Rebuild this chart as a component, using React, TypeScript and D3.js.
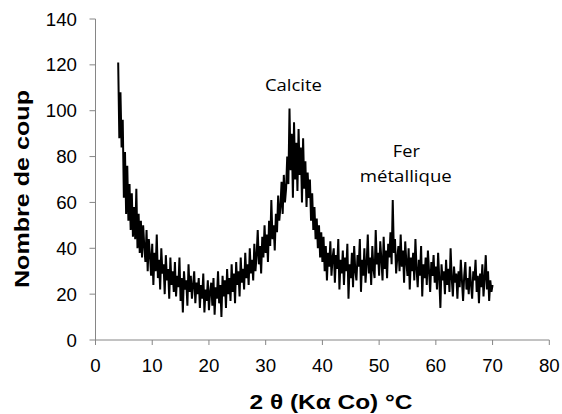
import React from "react";
import * as d3 from "d3";

const X_START = 4.0;
const X_STEP = 0.2;
const counts: number[] = [
  121, 88, 108, 84, 96, 62, 82, 55, 76, 52,
  68, 48, 64, 45, 58, 44, 66, 40, 55, 38,
  52, 36, 50, 41, 34, 48, 30, 44, 37, 28,
  42, 24, 38, 30, 46, 27, 35, 22, 40, 29,
  33, 20, 37, 26, 31, 18, 36, 24, 30, 21,
  34, 19, 28, 23, 36, 17, 27, 12, 30, 22,
  26, 15, 33, 21, 28, 18, 24, 30, 16, 25,
  20, 27, 14, 24, 18, 29, 12, 22, 17, 26,
  13, 21, 25, 15, 27, 11, 23, 18, 30, 16,
  24, 10, 28, 19, 26, 14, 31, 20, 27, 17,
  33, 21, 29, 16, 34, 24, 30, 19, 36, 25,
  31, 22, 38, 27, 33, 24, 40, 29, 35, 26,
  42, 30, 37, 48, 33, 41, 29, 45, 36, 50,
  38, 46, 34, 52, 41, 61, 44, 50, 39, 55,
  47, 63, 52, 58, 69, 55, 72, 60, 66, 80,
  68, 101, 74, 90, 62, 95, 70, 86, 65, 92,
  72, 84, 60, 88, 66, 78, 58, 73, 62, 70,
  52, 64, 48, 58, 44, 53, 40, 50, 36, 47,
  34, 45, 30, 41, 26, 38, 32, 43, 28, 36,
  40, 25, 37, 31, 44, 22, 35, 29, 39, 24,
  36, 30, 42, 18, 33, 27, 38, 23, 41, 30,
  26, 37, 32, 44, 21, 35, 28, 40, 25, 33,
  46, 29, 36, 24, 41, 31, 27, 48, 33, 38,
  28, 43, 35, 26, 45, 31, 39, 27, 42, 36,
  47, 33, 61, 38, 44, 29, 36, 41, 30, 46,
  32, 39, 25, 43, 34, 28, 40, 22, 36, 30,
  38, 26, 44, 31, 23, 35, 28, 41, 19, 33,
  27, 36, 24, 39, 30, 21, 34, 28, 37, 25,
  32, 22, 38, 27, 14, 33, 26, 30, 20, 35,
  24, 31, 21, 40, 27, 19, 32, 25, 29, 18,
  30, 23, 35, 26, 17, 28, 34, 22, 27, 20,
  32, 24, 18, 30, 26, 35, 21, 28, 16, 29,
  23, 33, 19, 27, 37, 22, 30, 17, 26, 21,
  24,
];

const xTicks = [0, 10, 20, 30, 40, 50, 60, 70, 80];
const yTicks = [0, 20, 40, 60, 80, 100, 120, 140];
const xTitle = "2 θ (Kα Co) °C";
const yTitle = "Nombre de coup";
const annotations = [
  { text: "Calcite", x: 34.9, y: 108.5, len: 57 },
  { text: "Fer", x: 54.8, y: 79.7, len: 27 },
  { text: "métallique", x: 54.7, y: 69, len: 92 },
];

const W = 562;
const H = 414;

export default function App() {
  const x = d3.scaleLinear().domain([0, 80]).range([95.5, 549.3]);
  const y = d3.scaleLinear().domain([0, 140]).range([340, 19]);
  const pts: [number, number][] = counts.map((c, i) => [X_START + i * X_STEP, c]);
  const line = d3
    .line<[number, number]>()
    .x((d) => x(d[0]))
    .y((d) => y(d[1]));
  const axisColor = "#868686";
  const tickFont = "'Liberation Sans', Arial, sans-serif";
  return (
    <svg
      width={W}
      height={H}
      style={{ position: "absolute", left: 0, top: 0, background: "#fff" }}
    >
      <rect width={W} height={H} fill="#fff" />
      <line x1={x(0)} x2={x(80)} y1={y(0)} y2={y(0)} stroke={axisColor} strokeWidth={1} />
      <line x1={x(0)} x2={x(0)} y1={y(0)} y2={y(140)} stroke={axisColor} strokeWidth={1} />
      {xTicks.map((t) => (
        <g key={"xt" + t}>
          <line x1={x(t)} x2={x(t)} y1={y(0)} y2={y(0) + 5} stroke={axisColor} />
          <text
            x={x(t)}
            y={372.3}
            textAnchor="middle"
            fontFamily={tickFont}
            fontSize={18.7}
            fill="#000"
          >
            {t}
          </text>
        </g>
      ))}
      {yTicks.map((t) => (
        <g key={"yt" + t}>
          <line x1={x(0) - 6} x2={x(0)} y1={y(t)} y2={y(t)} stroke={axisColor} />
          <text
            x={77}
            y={y(t) + 6.6}
            textAnchor="end"
            fontFamily={tickFont}
            fontSize={18.7}
            fill="#000"
          >
            {t}
          </text>
        </g>
      ))}
      <path d={line(pts) || ""} fill="none" stroke="#000" strokeWidth={2} strokeLinejoin="miter" />
      {annotations.map((a, i) => (
        <text
          key={"an" + i}
          x={x(a.x)}
          y={y(a.y)}
          textAnchor="middle"
          fontFamily="'Open Sans', 'Noto Sans', sans-serif"
          fontSize={17}
          textLength={a.len}
          lengthAdjust="spacingAndGlyphs"
          fill="#000"
        >
          {a.text}
        </text>
      ))}
      <text
        x={331}
        y={409}
        textAnchor="middle"
        fontFamily={tickFont}
        fontWeight="bold"
        fontSize={19.5}
        textLength={163}
        lengthAdjust="spacingAndGlyphs"
        fill="#000"
      >
        {xTitle}
      </text>
      <text
        transform={`translate(29, 189) rotate(-90)`}
        textAnchor="middle"
        fontFamily={tickFont}
        fontWeight="bold"
        fontSize={21}
        textLength={198}
        lengthAdjust="spacingAndGlyphs"
        fill="#000"
      >
        {yTitle}
      </text>
    </svg>
  );
}
